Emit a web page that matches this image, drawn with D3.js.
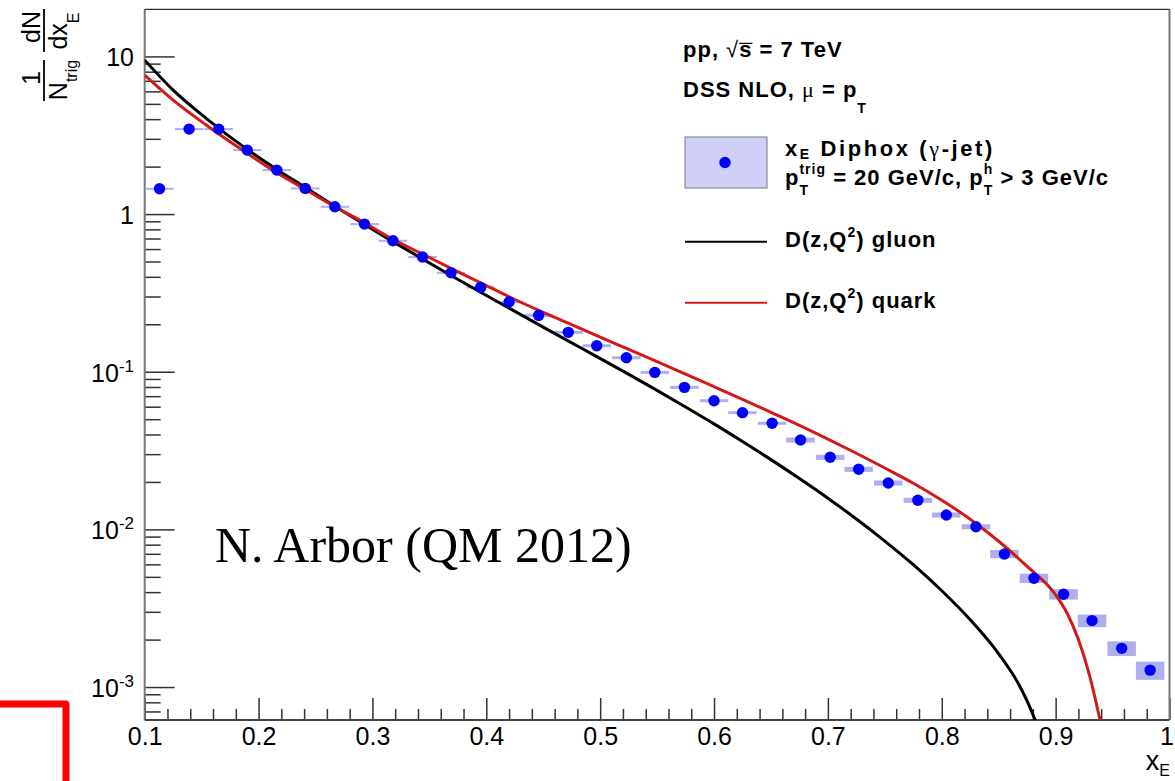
<!DOCTYPE html>
<html>
<head>
<meta charset="utf-8">
<script src="https://cdn.jsdelivr.net/npm/d3@7"></script>
<style>
  body { margin: 0; background: #fff; }
  svg { display: block; }
  text { white-space: pre; }
</style>
</head>
<body>
<div class="chart"></div>
<script>
// ---- data (x_E bin centres, 1/Ntrig dN/dxE) ----
let xE = [0.113, 0.139, 0.165, 0.190, 0.216, 0.241, 0.267, 0.293, 0.318, 0.344, 0.369, 0.395,
          0.420, 0.446, 0.472, 0.497, 0.523, 0.548, 0.574, 0.600, 0.625, 0.651, 0.676, 0.702,
          0.727, 0.753, 0.779, 0.804, 0.830, 0.855, 0.881, 0.907, 0.932, 0.958, 0.983];
let dndx = [1.447, 3.46, 3.46, 2.546, 1.901, 1.455, 1.112, 0.864, 0.677, 0.534, 0.4244, 0.3428,
            0.2767, 0.2278, 0.1778, 0.1462, 0.1227, 0.0991, 0.0796, 0.0655, 0.0550, 0.0471, 0.0369, 0.02866,
            0.02405, 0.01969, 0.01530, 0.01234, 0.01040, 0.00698, 0.00490, 0.00388, 0.00264, 0.00176, 0.00128];
// relative systematic error (box height)
let sysErr = [0.015, 0.015, 0.015, 0.015, 0.015, 0.015, 0.015, 0.015, 0.015, 0.015, 0.015, 0.015,
              0.015, 0.022, 0.022, 0.022, 0.022, 0.022, 0.022, 0.022, 0.022, 0.022, 0.037, 0.037,
              0.037, 0.037, 0.037, 0.037, 0.037, 0.060, 0.068, 0.076, 0.092, 0.107, 0.132];
let binHalf = 0.0125;

// DSS NLO fragmentation curves
let gluonX = [0.1, 0.125, 0.154, 0.190, 0.216, 0.241, 0.267, 0.293, 0.318, 0.344, 0.369, 0.395,
              0.420, 0.446, 0.471, 0.497, 0.522, 0.548, 0.575, 0.600, 0.625, 0.650, 0.675, 0.700,
              0.725, 0.750, 0.775, 0.800, 0.825, 0.850, 0.865, 0.875, 0.882];
let gluonY = [9.47, 6.11, 4.05, 2.573, 1.920, 1.477, 1.121, 0.859, 0.669, 0.519, 0.408, 0.319,
              0.253, 0.199, 0.158, 0.1248, 0.0991, 0.0776, 0.0598, 0.0467, 0.0361, 0.0277, 0.0210, 0.01577,
              0.01164, 0.00843, 0.00597, 0.00408, 0.00267, 0.001625, 0.001123, 0.000814, 0.000618];
let quarkX = [0.1, 0.125, 0.154, 0.190, 0.216, 0.242, 0.267, 0.293, 0.318, 0.344, 0.369, 0.395,
              0.420, 0.446, 0.471, 0.497, 0.522, 0.548, 0.575, 0.600, 0.625, 0.650, 0.675, 0.700,
              0.725, 0.750, 0.775, 0.800, 0.825, 0.850, 0.875, 0.900, 0.910, 0.920, 0.930, 0.939];
let quarkY = [7.61, 5.28, 3.67, 2.427, 1.827, 1.420, 1.112, 0.881, 0.691, 0.558, 0.4524, 0.3667,
              0.2989, 0.2451, 0.2045, 0.1692, 0.1416, 0.1175, 0.0966, 0.0804, 0.0668, 0.0553, 0.0457, 0.0374,
              0.0304, 0.0245, 0.0196, 0.0153, 0.0116, 0.00841, 0.00582, 0.00385, 0.00295, 0.00200, 0.00117, 0.000618];

// ticks
let xTicks = [0.1, 0.2, 0.3, 0.4, 0.5, 0.6, 0.7, 0.8, 0.9, 1];
let xTickLabels = ['0.1', '0.2', '0.3', '0.4', '0.5', '0.6', '0.7', '0.8', '0.9', '1'];
let yMajor = [0.001, 0.01, 0.1, 1, 10];
let yTickBase = ['10', '10', '10', '1', '10'];
let yTickExp = ['-3', '-2', '-1', '', ''];

let w = 1175, h = 781;
let frame = {left: 144.7, right: 1169.5, top: 9.3, bottom: 720};
let sans = '"Liberation Sans", Arial, Helvetica, sans-serif';
let serif = '"Liberation Serif", "Times New Roman", serif';

let svg = d3.select('.chart').append('svg').attr('width', w).attr('height', h);

let xScale = d3.scaleLinear().domain([0.1, 1]).range([frame.left, frame.right]);
let yScale = d3.scaleLog().domain([6.18e-4, 19.9]).range([frame.bottom, frame.top]);

/* ==== text helpers ==== */
let measurer = svg.append('text').attr('visibility', 'hidden');
function textWidth(str, size, weight, family, ls) {
    measurer.attr('font-size', size).attr('font-weight', weight).attr('font-family', family)
        .attr('letter-spacing', ls).text(str);
    return measurer.node().getComputedTextLength();
}

function richText(parent, x, y, pieces, anchor, base) {
    let g = parent.append('g');
    let cursor = 0, lastX = 0;
    pieces.forEach(function (p) {
        let size = p.size || base.size;
        let weight = p.weight || base.weight;
        let family = p.family || base.family;
        let ls = base.ls || 0;
        let pw = textWidth(p.t, size, weight, family, ls);
        let px;
        if (p.stack) {
            px = lastX;
            cursor = Math.max(cursor, lastX + pw);
        } else {
            px = cursor + (p.pre || 0);
            cursor = px + pw;
        }
        g.append('text')
            .attr('x', px)
            .attr('y', p.shift || 0)
            .attr('font-size', size)
            .attr('font-weight', weight)
            .attr('font-family', family)
            .attr('letter-spacing', ls)
            .attr('fill', base.fill || '#000')
            .text(p.t);
        if (p.over) {
            g.append('line')
                .attr('x1', px).attr('x2', px + pw)
                .attr('y1', -size * 0.62).attr('y2', -size * 0.62)
                .attr('stroke', '#000').attr('stroke-width', 1.2);
        }
        lastX = px;
    });
    let dx = anchor === 'middle' ? -cursor / 2 : anchor === 'end' ? -cursor : 0;
    g.attr('transform', 'translate(' + (x + dx) + ',' + y + ')');
    return g;
}

/* ==== decoration (red corner) ==== */
svg.append('path')
    .attr('d', 'M0,704 H66 V781')
    .attr('fill', 'none')
    .attr('stroke', '#ff0000')
    .attr('stroke-width', 7)
    .attr('stroke-linejoin', 'round');

/* ==== AXES ===== */
let yMinor = yScale.ticks().filter(function (v) {
    return yMajor.indexOf(v) < 0 && yScale(v) >= frame.top && yScale(v) <= frame.bottom;
});
let xMinor = d3.range(0.12, 1.0, 0.02).filter(function (v) {
    return Math.abs(v * 10 - Math.round(v * 10)) > 0.01;
});

let xAxisMinor = svg.append('g')
    .attr('transform', 'translate(0,' + frame.bottom + ')')
    .call(d3.axisBottom(xScale).tickValues(xMinor).tickSize(-11).tickFormat(''));
let xAxisMajor = svg.append('g')
    .attr('transform', 'translate(0,' + frame.bottom + ')')
    .call(d3.axisBottom(xScale).tickValues(xTicks).tickSize(-22).tickPadding(7)
        .tickFormat(function (d, i) { return xTickLabels[i]; }));
xAxisMajor.attr('font-family', sans).attr('font-size', 25);
xAxisMajor.selectAll('.tick text')
    .attr('fill', '#000')
    .attr('dx', function (d) { return d === 1 ? -3 : 0; });

let yAxisMinor = svg.append('g')
    .attr('transform', 'translate(' + frame.left + ',0)')
    .call(d3.axisLeft(yScale).tickValues(yMinor).tickSize(-16).tickFormat(''));
let yAxisMajor = svg.append('g')
    .attr('transform', 'translate(' + frame.left + ',0)')
    .call(d3.axisLeft(yScale).tickValues(yMajor).tickSize(-30).tickFormat(''));

[xAxisMinor, xAxisMajor, yAxisMinor, yAxisMajor].forEach(function (a) {
    a.select('.domain').remove();
    a.selectAll('.tick line').attr('stroke', '#333').attr('stroke-width', 1.5);
});

yMajor.forEach(function (v, i) {
    let pieces = [{t: yTickBase[i]}];
    if (yTickExp[i]) pieces.push({t: yTickExp[i], size: 17, shift: -10});
    richText(svg, 134, yScale(v) + 10, pieces, 'end', {size: 25, weight: 'normal', family: sans});
});

/* ==== frame ==== */
svg.append('line').attr('x1', frame.left).attr('x2', frame.left).attr('y1', frame.top).attr('y2', frame.bottom)
    .attr('stroke', '#777').attr('stroke-width', 2);
svg.append('line').attr('x1', frame.right).attr('x2', frame.right).attr('y1', frame.top).attr('y2', frame.bottom)
    .attr('stroke', '#777').attr('stroke-width', 2);
svg.append('line').attr('x1', frame.left).attr('x2', frame.right).attr('y1', frame.top).attr('y2', frame.top)
    .attr('stroke', '#333').attr('stroke-width', 1.2);
svg.append('line').attr('x1', frame.left).attr('x2', frame.right).attr('y1', frame.bottom).attr('y2', frame.bottom)
    .attr('stroke', '#444').attr('stroke-width', 2);

/* ==== axis titles ==== */
richText(svg, 1170, 770, [{t: 'x'}, {t: 'E', size: 16, shift: 6}], 'end', {size: 27, weight: 'normal', family: sans});

let yTitle = svg.append('g').attr('transform', 'rotate(-90)');
let tBase = {size: 25, weight: 'normal', family: sans};
richText(yTitle, -78, 40, [{t: '1'}], 'middle', tBase);
richText(yTitle, -80, 67, [{t: 'N'}, {t: 'trig', size: 16, shift: 10}], 'middle', tBase);
yTitle.append('line').attr('x1', -101).attr('x2', -60).attr('y1', 44).attr('y2', 44)
    .attr('stroke', '#000').attr('stroke-width', 1.8);
richText(yTitle, -27, 40, [{t: 'dN'}], 'middle', tBase);
richText(yTitle, -31, 67, [{t: 'dx'}, {t: 'E', size: 16, shift: 12}], 'middle', tBase);
yTitle.append('line').attr('x1', -52).attr('x2', -9).attr('y1', 44).attr('y2', 44)
    .attr('stroke', '#000').attr('stroke-width', 1.8);

/* ==== DATA: boxes, curves, points ==== */
svg.append('clipPath')
    .attr('id', 'plot-area')
    .append('rect')
    .attr('x', frame.left)
    .attr('y', frame.top)
    .attr('width', frame.right - frame.left)
    .attr('height', frame.bottom - frame.top);

let points = xE.map(function (x, i) { return {x: x, y: dndx[i], e: sysErr[i]}; });

svg.append('g').selectAll('rect')
    .data(points)
    .enter()
    .append('rect')
    .attr('x', function (d) { return xScale(d.x - binHalf); })
    .attr('width', function (d) { return xScale(d.x + binHalf) - xScale(d.x - binHalf); })
    .attr('y', function (d) { return yScale(d.y * (1 + d.e)); })
    .attr('height', function (d) { return Math.max(1.8, yScale(d.y * (1 - d.e)) - yScale(d.y * (1 + d.e))); })
    .attr('fill', '#aeb0ee');

let curve = d3.line()
    .x(function (d) { return xScale(d[0]); })
    .y(function (d) { return yScale(d[1]); })
    .curve(d3.curveMonotoneX);

svg.append('path')
    .datum(gluonX.map(function (x, i) { return [x, gluonY[i]]; }))
    .attr('d', curve)
    .attr('fill', 'none')
    .attr('stroke', '#000')
    .attr('stroke-width', 3)
    .attr('clip-path', 'url(#plot-area)');

svg.append('path')
    .datum(quarkX.map(function (x, i) { return [x, quarkY[i]]; }))
    .attr('d', curve)
    .attr('fill', 'none')
    .attr('stroke', '#d21a1a')
    .attr('stroke-width', 3)
    .attr('clip-path', 'url(#plot-area)');

svg.append('g').selectAll('circle')
    .data(points)
    .enter()
    .append('circle')
    .attr('cx', function (d) { return xScale(d.x); })
    .attr('cy', function (d) { return yScale(d.y); })
    .attr('r', 5.7)
    .attr('fill', '#0000ff');

/* ==== LEGEND ==== */
let lBase = {size: 22, weight: 'bold', family: sans, ls: 1};
let lWide = {size: 22, weight: 'bold', family: sans, ls: 2.6};
richText(svg, 683, 57, [{t: 'pp, '}, {t: '\u221A', weight: 'normal'}, {t: 's', over: true}, {t: ' = 7 TeV'}], 'start', lBase);
richText(svg, 683, 97, [{t: 'DSS NLO, '}, {t: '\u03BC', weight: 'normal', family: serif}, {t: ' = p'},
    {t: 'T', size: 14, shift: 16}], 'start', lBase);

svg.append('rect')
    .attr('x', 685).attr('y', 137).attr('width', 82).attr('height', 51)
    .attr('fill', '#cfcff7').attr('stroke', '#8a8a9a').attr('stroke-width', 1.2);
svg.append('circle').attr('cx', 725).attr('cy', 162.5).attr('r', 5.7).attr('fill', '#0000ff');

richText(svg, 785, 156, [{t: 'x'}, {t: 'E', size: 14, shift: 3}, {t: ' Diphox ('},
    {t: '\u03B3', weight: 'normal', family: serif}, {t: '-jet)'}], 'start', lWide);
richText(svg, 785, 185, [{t: 'p'}, {t: 'T', size: 14, shift: 10}, {t: 'trig', size: 14, shift: -11, stack: true},
    {t: ' = 20 GeV/c, p'}, {t: 'T', size: 14, shift: 10}, {t: 'h', size: 14, shift: -11, stack: true},
    {t: ' > 3 GeV/c'}], 'start', lBase);

svg.append('line').attr('x1', 685).attr('x2', 767).attr('y1', 241.7).attr('y2', 241.7)
    .attr('stroke', '#000').attr('stroke-width', 2);
richText(svg, 785, 247, [{t: 'D(z,Q'}, {t: '2', size: 14, shift: -10}, {t: ') gluon'}], 'start', lBase);

svg.append('line').attr('x1', 685).attr('x2', 767).attr('y1', 302.7).attr('y2', 302.7)
    .attr('stroke', '#d21a1a').attr('stroke-width', 2);
richText(svg, 785, 308, [{t: 'D(z,Q'}, {t: '2', size: 14, shift: -10}, {t: ') quark'}], 'start', lBase);

/* ==== annotation ==== */
svg.append('text')
    .attr('x', 215)
    .attr('y', 562)
    .attr('font-family', serif)
    .attr('font-size', 50)
    .attr('fill', '#000')
    .text('N. Arbor (QM 2012)');
</script>
</body>
</html>
